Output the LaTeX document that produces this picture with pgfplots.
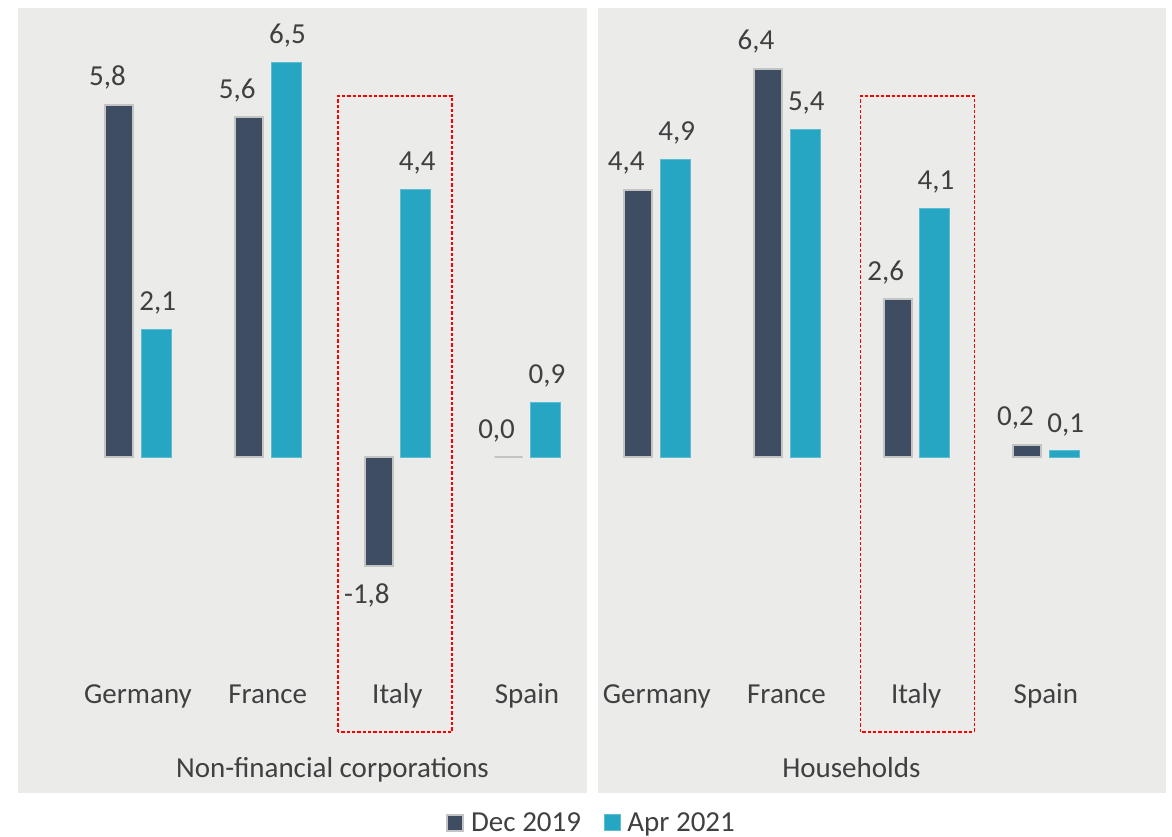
\documentclass[border=0pt]{standalone}
\usepackage{pgfplots}
\pgfplotsset{compat=1.18}
\usepackage{pgfplotstable}
\usepackage{fontspec}
\setmainfont{Carlito}
\definecolor{navy}{HTML}{3F4D63}
\definecolor{tealc}{HTML}{26A6C2}
\definecolor{bggrey}{HTML}{EBEBEA}
\definecolor{txt}{HTML}{404040}
\definecolor{bordergrey}{HTML}{C4C4C4}
\pgfplotstableread{
x y lab
0 5.8 {5,8}
1 5.6 {5,6}
3 0.0 {0,0}
4 4.4 {4,4}
5 6.4 {6,4}
6 2.6 {2,6}
7 0.2 {0,2}
}\decdata
\pgfplotstableread{
x y lab
2 -1.8 {-1,8}
}\decneg
\pgfplotstableread{
x y lab
0 2.1 {2,1}
1 6.5 {6,5}
2 4.4 {4,4}
3 0.9 {0,9}
4 4.9 {4,9}
5 5.4 {5,4}
6 4.1 {4,1}
7 0.1 {0,1}
}\aprdata
\newcommand{\cfont}{\fontsize{21.75}{26}\selectfont}
\begin{document}
\begin{tikzpicture}
\path[use as bounding box] (0,0) rectangle (879pt,627.75pt);
\begin{axis}[
  at={(13.5pt,33pt)}, anchor=south west,
  scale only axis, width=861pt, height=588.75pt,
  xmin=-0.925, xmax=7.926, ymin=-5.535, ymax=7.397,
  axis lines=none, clip=false,
  ybar, bar width=22.5pt,
  point meta=explicit symbolic,
  nodes near coords,
  every node near coord/.append style={font=\cfont, text=txt, inner sep=0pt,
     outer xsep=0pt, outer ysep=14.2pt, text height=13.7pt, text depth=0pt},
  legend style={at={(0.5,-0.0382)}, anchor=center, draw=none, fill=none,
     legend columns=2, font=\cfont, text=txt,
     /tikz/every even column/.append style={column sep=15pt}},
  legend image code/.code={\draw[#1] (0pt,-6pt) rectangle (12pt,6pt); \path (15pt,0pt);},
]
\fill[bggrey] (axis cs:-0.925,-5.535) rectangle (axis cs:3.462,7.397);
\fill[bggrey] (axis cs:3.547,-5.535) rectangle (axis cs:7.926,7.397);

\addplot[fill=navy, draw=bordergrey, line width=1.5pt, bar width=21pt, bar shift=-13.875pt,
  every node near coord/.append style={xshift=-9pt}]
  table[x=x, y=y, meta=lab] {\decdata};
\addplot[fill=tealc, draw=tealc!75!white, line width=0.75pt, bar width=22.5pt, bar shift=13.875pt,
  every node near coord/.append style={xshift=1pt}]
  table[x=x, y=y, meta=lab] {\aprdata};
\addplot[forget plot, fill=navy, draw=bordergrey, line width=1.5pt, bar width=21pt, bar shift=-13.875pt,
  nodes near coords align={below},
  every node near coord/.append style={anchor=north, xshift=-9pt}]
  table[x=x, y=y, meta=lab] {\decneg};
\legend{Dec 2019, Apr 2021}

\node[font=\cfont, text=txt, anchor=base] at (axis cs:0,-4.053) {Germany};
\node[font=\cfont, text=txt, anchor=base] at (axis cs:1,-4.053) {France};
\node[font=\cfont, text=txt, anchor=base] at (axis cs:2,-4.053) {Italy};
\node[font=\cfont, text=txt, anchor=base] at (axis cs:3,-4.053) {Spain};
\node[font=\cfont, text=txt, anchor=base] at (axis cs:4,-4.053) {Germany};
\node[font=\cfont, text=txt, anchor=base] at (axis cs:5,-4.053) {France};
\node[font=\cfont, text=txt, anchor=base] at (axis cs:6,-4.053) {Italy};
\node[font=\cfont, text=txt, anchor=base] at (axis cs:7,-4.053) {Spain};
\node[font=\cfont, text=txt, anchor=base] at (axis cs:1.5,-5.272) {Non-financial corporations};
\node[font=\cfont, text=txt, anchor=base] at (axis cs:5.5,-5.272) {Households};

\draw[red, line width=0.8pt, dash pattern=on 2.5pt off 1.5pt]
  (axis cs:1.542,-4.530) rectangle (axis cs:2.421,5.947);
\draw[red, line width=0.8pt, dash pattern=on 2.5pt off 1.5pt]
  (axis cs:5.574,-4.530) rectangle (axis cs:6.446,5.947);
\end{axis}
\end{tikzpicture}
\end{document}
